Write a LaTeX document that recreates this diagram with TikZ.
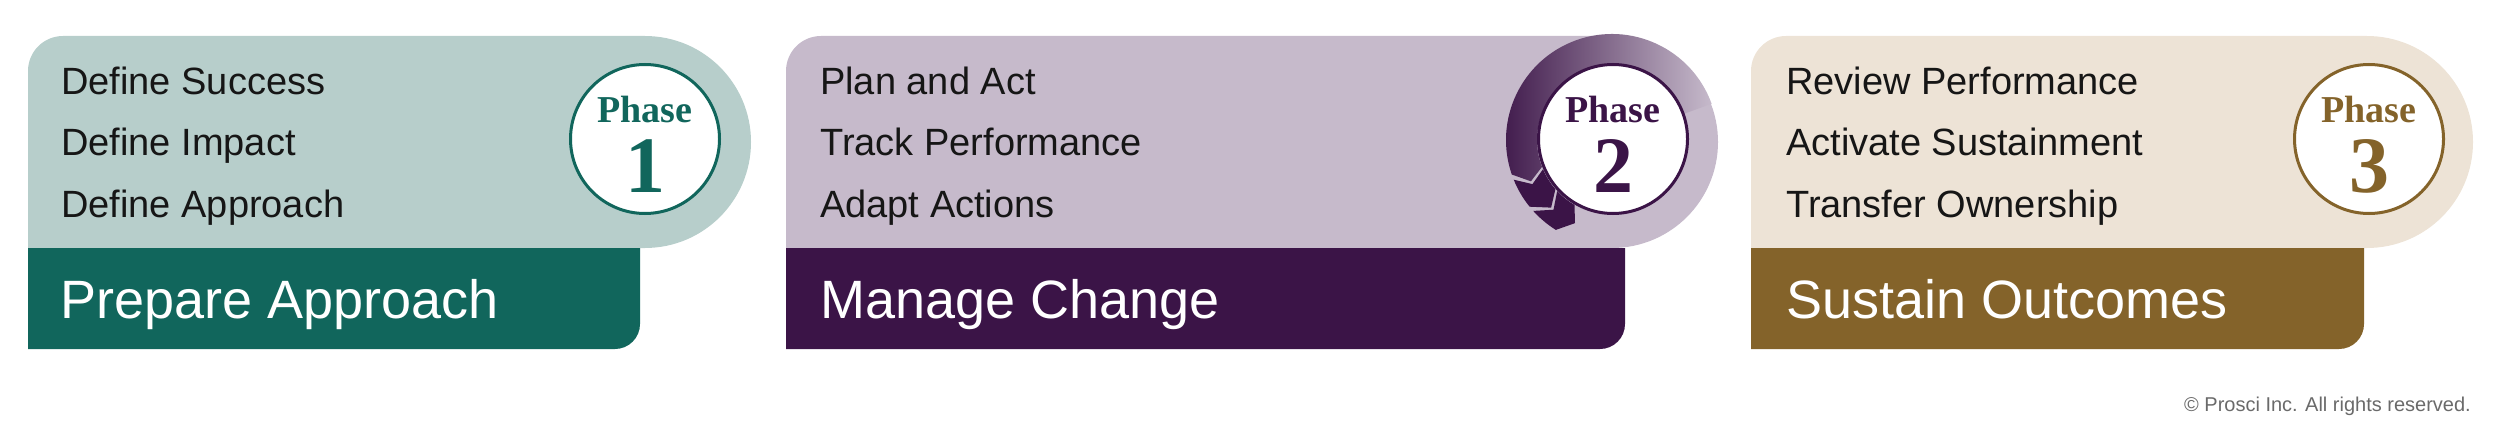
\documentclass[tikz,border=0pt]{standalone}
\usepackage{fontspec}
\setmainfont{Liberation Sans}
\newfontfamily\phasefont{Liberation Serif}
\usepackage{tikz}
\usetikzlibrary{calc}
\usetikzlibrary{positioning}
\definecolor{tealLight}{HTML}{B7CECB}
\definecolor{tealDark}{HTML}{11665C}
\definecolor{plumLight}{HTML}{C6BACB}
\definecolor{plumDark}{HTML}{3B1447}
\definecolor{sandLight}{HTML}{EDE3D6}
\definecolor{sandDark}{HTML}{84632A}
\definecolor{inkText}{HTML}{161616}
\definecolor{noteGray}{HTML}{6A6A6A}
\tikzstyle{itemtext}=[anchor=base west,inner sep=0pt,text=inkText,font=\fontsize{38}{40}\selectfont]
\tikzstyle{bandtext}=[anchor=base west,inner sep=0pt,text=white,font=\fontsize{54}{56}\selectfont]
\tikzstyle{badge}=[circle,minimum size=149pt,inner sep=0pt,fill=white,line width=3pt]
\tikzstyle{phaseword}=[anchor=base,inner sep=0pt,font=\phasefont\bfseries\fontsize{38}{40}\selectfont]
\tikzstyle{phasenum}=[anchor=base,inner sep=0pt,font=\phasefont\bfseries\fontsize{80}{80}\selectfont]
\tikzset{x=1pt,y=1pt}

\begin{document}
\begin{tikzpicture}

    \useasboundingbox (0,0) rectangle (2500,-441);

    \fill[tealLight] (28,-248) -- (28,-71) arc[start angle=180,end angle=90,radius=35] -- (645,-36) arc[start angle=90,end angle=-90,radius=106] -- cycle;
    \fill[tealDark] (28,-248) -- (640,-248) -- (640,-324) arc[start angle=0,end angle=-90,radius=25] -- (28,-349) -- cycle;

    \fill[plumLight] (786,-248) -- (786,-71) arc[start angle=180,end angle=90,radius=35] -- (1612,-36) arc[start angle=90,end angle=-90,radius=106] -- cycle;
    \fill[plumDark] (786,-248) -- (1625,-248) -- (1625,-324) arc[start angle=0,end angle=-90,radius=25] -- (786,-349) -- cycle;

    \fill[sandLight] (1751,-248) -- (1751,-71) arc[start angle=180,end angle=90,radius=35] -- (2367,-36) arc[start angle=90,end angle=-90,radius=106] -- cycle;
    \fill[sandDark] (1751,-248) -- (2364,-248) -- (2364,-324) arc[start angle=0,end angle=-90,radius=25] -- (1751,-349) -- cycle;

    \coordinate (ringc) at (1612,-140);
    \shade[left color=plumDark,right color=plumLight] ($(ringc)+(20:106)$) arc[start angle=20,end angle=199,radius=106] -- ($(ringc)+(207:91)$) -- ($(ringc)+(201:75)$) arc[start angle=201,end angle=20,radius=75] -- cycle;
    \fill[plumDark] ($(ringc)+(202:106)$) arc[start angle=202,end angle=219,radius=106] -- ($(ringc)+(228:91)$) -- ($(ringc)+(221:75)$) arc[start angle=221,end angle=203,radius=75] -- ($(ringc)+(209:91)$) -- cycle;
    \fill[plumDark] ($(ringc)+(222:106)$) arc[start angle=222,end angle=238,radius=106] -- ($(ringc)+(246:91)$) -- ($(ringc)+(240:75)$) arc[start angle=240,end angle=223,radius=75] -- ($(ringc)+(230:91)$) -- cycle;

    \node[itemtext] (success) at (61,-95) {Define Success};
    \node[itemtext] (impact) at (61,-156) {Define Impact};
    \node[itemtext] (approach) at (61,-217) {Define Approach};
    \node[bandtext] (prepare) at (60,-318) {Prepare Approach};

    \node[itemtext] (planact) at (820,-95) {Plan and Act};
    \node[itemtext] (track) at (820,-156) {Track Performance};
    \node[itemtext] (adapt) at (820,-217) {Adapt Actions};
    \node[bandtext] (manage) at (820,-318) {Manage Change};

    \node[itemtext] (review) at (1786,-95) {Review Performance};
    \node[itemtext] (activate) at (1786,-156) {Activate Sustainment};
    \node[itemtext] (transfer) at (1786,-217) {Transfer Ownership};
    \node[bandtext] (sustain) at (1786,-318) {Sustain Outcomes};

    \node[badge,draw=tealDark] (badgeone) at (645,-139) {};
    \node[phaseword,text=tealDark] (phaseone) at ($(badgeone)+(0,16)$) {Phase};
    \node[phasenum,text=tealDark] (numone) at ($(badgeone)+(0,-53)$) {1};

    \node[badge,draw=plumDark] (badgetwo) at (1613,-139) {};
    \node[phaseword,text=plumDark] (phasetwo) at ($(badgetwo)+(0,16)$) {Phase};
    \node[phasenum,text=plumDark] (numtwo) at ($(badgetwo)+(0,-53)$) {2};

    \node[badge,draw=sandDark] (badgethree) at (2369,-139) {};
    \node[phaseword,text=sandDark] (phasethree) at ($(badgethree)+(0,16)$) {Phase};
    \node[phasenum,text=sandDark] (numthree) at ($(badgethree)+(0,-53)$) {3};

    \node[anchor=base east,inner sep=0pt,text=noteGray,font=\fontsize{20}{22}\selectfont] (rights) at (2471,-411) {© Prosci Inc. All rights reserved.};
  \end{tikzpicture}
\end{document}
